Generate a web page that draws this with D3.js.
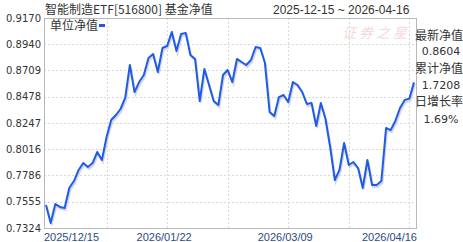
<!DOCTYPE html>
<html>
<head>
<meta charset="utf-8">
<script src="https://cdn.jsdelivr.net/npm/d3@7"></script>
<style>
  body { margin: 0; background: #fff; }
  svg { display: block; }
</style>
</head>
<body>
<div id="chart"></div>
<script>
const title = "智能制造ETF[516800] 基金净值";
const dateRange = "2025-12-15 ~ 2026-04-16";
const legendLabel = "单位净值";

const dates = [
  "2025/12/15","2025/12/16","2025/12/17","2025/12/18","2025/12/19","2025/12/22","2025/12/23","2025/12/24","2025/12/25","2025/12/26","2025/12/29","2025/12/30","2025/12/31",
  "2026/01/05","2026/01/06","2026/01/07","2026/01/08","2026/01/09","2026/01/12","2026/01/13","2026/01/14","2026/01/15","2026/01/16","2026/01/19","2026/01/20","2026/01/21","2026/01/22","2026/01/23","2026/01/26","2026/01/27","2026/01/28","2026/01/29","2026/01/30",
  "2026/02/02","2026/02/03","2026/02/04","2026/02/05","2026/02/06","2026/02/09","2026/02/10","2026/02/11","2026/02/12","2026/02/13","2026/02/24","2026/02/25","2026/02/26","2026/02/27",
  "2026/03/02","2026/03/03","2026/03/04","2026/03/05","2026/03/06","2026/03/09","2026/03/10","2026/03/11","2026/03/12","2026/03/13","2026/03/16","2026/03/17","2026/03/18","2026/03/19","2026/03/20","2026/03/23","2026/03/24","2026/03/25","2026/03/26","2026/03/27","2026/03/30","2026/03/31",
  "2026/04/01","2026/04/02","2026/04/03","2026/04/07","2026/04/08","2026/04/09","2026/04/10","2026/04/13","2026/04/14","2026/04/15","2026/04/16"
];

const nav = [
  0.7526, 0.7368, 0.7535, 0.7509, 0.7500, 0.7676, 0.7737, 0.7834, 0.7895, 0.7860,
  0.7895, 0.7992, 0.7922, 0.8124, 0.8273, 0.8317, 0.8370, 0.8467, 0.8757, 0.8519,
  0.8607, 0.8669, 0.8818, 0.8853, 0.8695, 0.8906, 0.8924, 0.9047, 0.8880, 0.9029,
  0.9038, 0.8845, 0.8810, 0.8440, 0.8722, 0.8581, 0.8440, 0.8405, 0.8669, 0.8713,
  0.8607, 0.8810, 0.8783, 0.8757, 0.8801, 0.8915, 0.8906, 0.8774, 0.8344, 0.8308,
  0.8475, 0.8493, 0.8432, 0.8607, 0.8581, 0.8519, 0.8414, 0.8423, 0.8221, 0.8423,
  0.8282, 0.8036, 0.7746, 0.7834, 0.8071, 0.7878, 0.7904, 0.7851, 0.7676, 0.7922,
  0.7702, 0.7702, 0.7737, 0.8203, 0.8185, 0.8265, 0.8379, 0.8449, 0.8461, 0.8604
];

const yTicks = [0.7324, 0.7555, 0.7786, 0.8016, 0.8247, 0.8478, 0.8709, 0.8940, 0.9170];
const xTickLabels = ["2025/12/15", "2026/01/22", "2026/03/09", "2026/04/16"];
const xGridEvery = 13;

const sideLabels = ["最新净值", "累计净值", "日增长率"];
const sideValues = ["0.8604", "1.7208", "1.69%"];

const width = 463, height = 242;
const plot = { left: 44, right: 416, top: 18, bottom: 228 };

const svg = d3.select("#chart").append("svg")
  .attr("width", width)
  .attr("height", height);

const x = d3.scaleLinear().domain([0, dates.length - 1]).range([plot.left + 2, plot.right - 2]);
const y = d3.scaleLinear().domain([yTicks[0], yTicks[yTicks.length - 1]]).range([plot.bottom, plot.top]);

// grid
const grid = svg.append("g")
  .attr("stroke", "#d8d8d8")
  .attr("stroke-dasharray", "2,2");
grid.selectAll("line.h")
  .data(yTicks.slice(1, -1))
  .enter().append("line")
  .attr("x1", plot.left).attr("x2", plot.right)
  .attr("y1", d => Math.round(y(d)) + 0.5).attr("y2", d => Math.round(y(d)) + 0.5);
grid.selectAll("line.v")
  .data(d3.range(xGridEvery, dates.length, xGridEvery))
  .enter().append("line")
  .attr("x1", d => Math.round(x(d)) + 0.5).attr("x2", d => Math.round(x(d)) + 0.5)
  .attr("y1", plot.top).attr("y2", plot.bottom);

// frame
svg.append("rect")
  .attr("x", plot.left + 0.5).attr("y", plot.top + 0.5)
  .attr("width", plot.right - plot.left).attr("height", plot.bottom - plot.top)
  .attr("fill", "none")
  .attr("stroke", "#b8b8b8");

// watermark
svg.append("text")
  .attr("x", 376).attr("y", 38)
  .attr("text-anchor", "middle")
  .attr("font-family", "Noto Sans CJK SC")
  .attr("font-size", 14)
  .attr("font-style", "italic")
  .attr("letter-spacing", 3)
  .attr("fill", "#f7d9d9")
  .text("证券之星");

// y axis labels
svg.append("g").selectAll("text")
  .data(yTicks)
  .enter().append("text")
  .attr("x", 41)
  .attr("y", d => y(d))
  .attr("dy", "0.35em")
  .attr("text-anchor", "end")
  .attr("font-family", "DejaVu Sans")
  .attr("font-size", 10)
  .attr("fill", "#333")
  .text(d => d.toFixed(4));

// x axis labels
svg.append("g").selectAll("text")
  .data(xTickLabels)
  .enter().append("text")
  .attr("x", (d, i) => i === 0 ? plot.left : i === xTickLabels.length - 1 ? plot.right + 1 : x(dates.indexOf(d)) - 3)
  .attr("y", 241)
  .attr("text-anchor", (d, i) => i === 0 ? "start" : i === xTickLabels.length - 1 ? "end" : "middle")
  .attr("font-family", "Liberation Sans")
  .attr("font-size", 11)
  .attr("fill", "#2b4a86")
  .text(d => d);

// line with soft shadow
const line = d3.line()
  .x((d, i) => x(i))
  .y(d => y(d));

svg.append("path")
  .datum(nav)
  .attr("d", line)
  .attr("transform", "translate(1,2)")
  .attr("fill", "none")
  .attr("stroke", "#b9b6dc")
  .attr("stroke-width", 2)
  .attr("opacity", 0.6);

svg.append("path")
  .datum(nav)
  .attr("d", line)
  .attr("fill", "none")
  .attr("stroke", "#1f5ce6")
  .attr("stroke-width", 2)
  .attr("stroke-linejoin", "round");

// legend
svg.append("text")
  .attr("x", 50).attr("y", 30)
  .attr("font-family", "Noto Sans CJK SC")
  .attr("font-size", 12)
  .attr("fill", "#333")
  .text(legendLabel);
svg.append("rect")
  .attr("x", 99).attr("y", 24)
  .attr("width", 6).attr("height", 3)
  .attr("fill", "#1f5ce6");

// title and date range
svg.append("text")
  .attr("x", 45).attr("y", 14)
  .attr("font-family", "Noto Sans CJK SC")
  .attr("font-size", 12)
  .attr("fill", "#333")
  .text(title);
svg.append("text")
  .attr("x", 273).attr("y", 14)
  .attr("font-family", "Liberation Sans")
  .attr("font-size", 12)
  .attr("fill", "#333")
  .text(dateRange);

// side panel
const side = svg.append("g");
side.selectAll("text.label")
  .data(sideLabels)
  .enter().append("text")
  .attr("x", 439)
  .attr("y", (d, i) => 40 + i * 33)
  .attr("text-anchor", "middle")
  .attr("font-family", "Noto Sans CJK SC")
  .attr("font-size", 12)
  .attr("fill", "#333")
  .text(d => d);
side.selectAll("text.value")
  .data(sideValues)
  .enter().append("text")
  .attr("x", 441)
  .attr("y", (d, i) => 55 + i * 34)
  .attr("text-anchor", "middle")
  .attr("font-family", "DejaVu Sans")
  .attr("font-size", 11)
  .attr("fill", "#333")
  .text(d => d);
</script>
</body>
</html>
